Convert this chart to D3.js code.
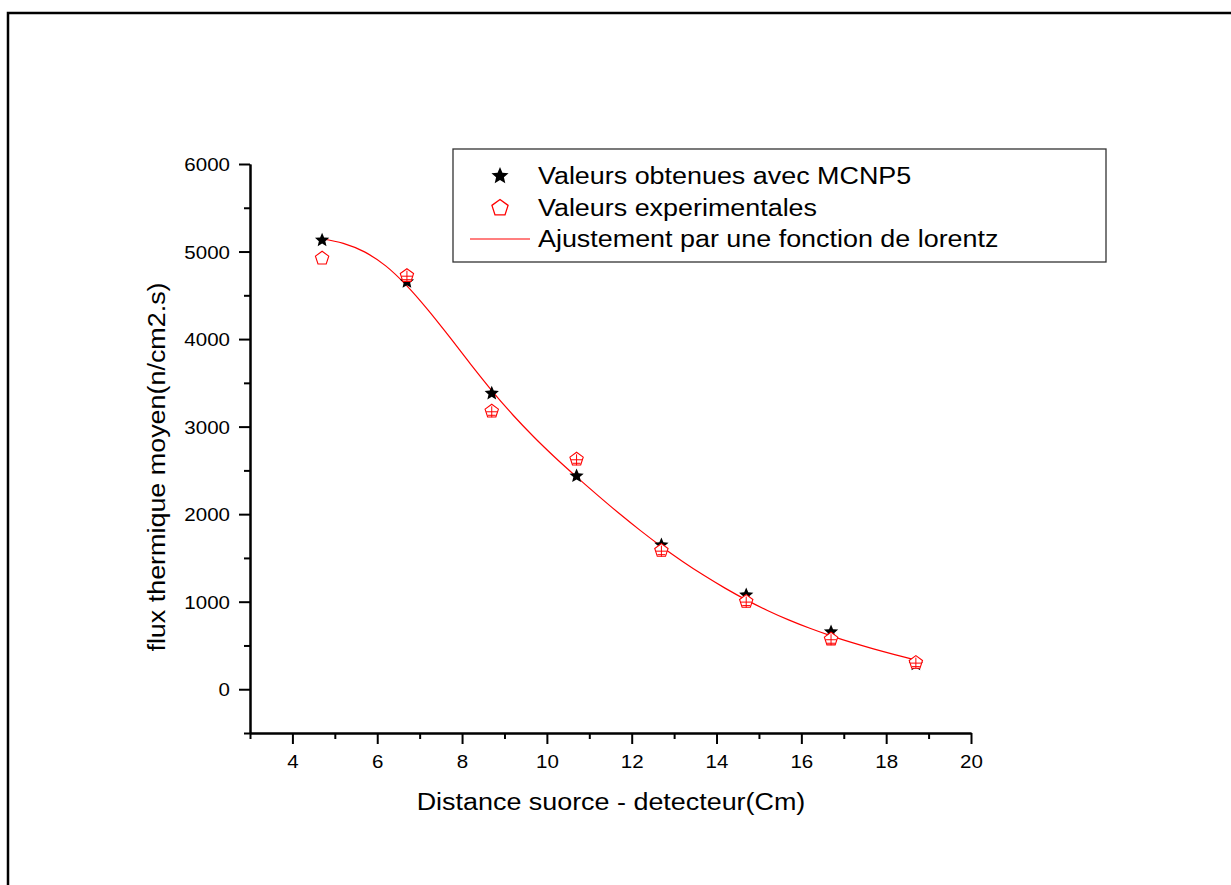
<!DOCTYPE html>
<html><head><meta charset="utf-8">
<script src="https://cdn.jsdelivr.net/npm/d3@7"></script>
<style>html,body{margin:0;padding:0;background:#fff;}svg{display:block;}</style>
</head><body>
<script>
// ---- data ----
const distances = [4.7, 6.7, 8.7, 10.7, 12.7, 14.7, 16.7, 18.7];
const mcnp5 = [5130, 4655, 3380, 2436, 1648, 1077, 655, 285];
const experimental = [4923, 4724, 3175, 2627, 1583, 1001, 571, 304];
const fitX = [4.7, 5.2, 5.7, 6.2, 6.7, 7.2, 7.7, 8.2, 8.7, 9.2, 9.7, 10.2, 10.7, 11.2, 11.7, 12.2, 12.7, 13.2, 13.7, 14.2, 14.7, 15.2, 15.7, 16.2, 16.7, 17.2, 17.7, 18.2, 18.7];
const fitY = [5143, 5093, 4996, 4836, 4608, 4331, 4027, 3714, 3412, 3133, 2879, 2645, 2426, 2215, 2010, 1815, 1631, 1460, 1301, 1155, 1021, 900, 792, 696, 610, 532, 461, 396, 336];
const xMajorTicks = [4, 6, 8, 10, 12, 14, 16, 18, 20];
const xMinorTicks = [3, 5, 7, 9, 11, 13, 15, 17, 19];
const yMajorTicks = [0, 1000, 2000, 3000, 4000, 5000, 6000];
const yMinorTicks = [-500, 500, 1500, 2500, 3500, 4500, 5500];
const legendLabels = ["Valeurs obtenues avec MCNP5", "Valeurs experimentales", "Ajustement par une fonction de lorentz"];
const xTitle = "Distance suorce - detecteur(Cm)";
const yTitle = "flux thermique moyen(n/cm2.s)";

const W = 1231, H = 885;
const FONT = "'Liberation Sans', Arial, sans-serif";
const SX = 1.17; // horizontal stretch of Origin text

const svg = d3.select("body").append("svg").attr("width", W).attr("height", H);

// outer frame (top + left)
svg.append("path").attr("d", `M8,${H} L8,13 L${W},13`).attr("fill", "none")
  .attr("stroke", "#000").attr("stroke-width", 2.5);

const x = d3.scaleLinear().domain([3, 20]).range([250, 971]);
const y = d3.scaleLinear().domain([-500, 6000]).range([733, 164]);

function stretchText(sel, px, py, anchor, s) {
  sel.attr("x", null).attr("y", null).attr("dy", null)
    .attr("text-anchor", anchor)
    .attr("transform", `translate(${px},${py}) scale(${s || SX},1)`);
}

// axes
const gx = svg.append("g").attr("transform", "translate(0,733)");
gx.call(d3.axisBottom(x).tickValues(xMinorTicks).tickSize(6).tickSizeOuter(0).tickFormat(""));
const gx2 = svg.append("g").attr("transform", "translate(0,733)");
gx2.call(d3.axisBottom(x).tickValues(xMajorTicks).tickSize(11).tickSizeOuter(0).tickFormat(d3.format("d")));
const gy = svg.append("g").attr("transform", "translate(250,0)");
gy.call(d3.axisLeft(y).tickValues(yMinorTicks).tickSize(6).tickSizeOuter(0).tickFormat(""));
const gy2 = svg.append("g").attr("transform", "translate(250,0)");
gy2.call(d3.axisLeft(y).tickValues(yMajorTicks).tickSize(11).tickSizeOuter(0).tickFormat(d3.format("d")));

svg.selectAll(".domain").attr("stroke", "#000").attr("stroke-width", 2);
svg.selectAll(".tick line").attr("stroke", "#000").attr("stroke-width", 2);
svg.selectAll(".tick text").attr("font-family", FONT).attr("font-size", 18).attr("fill", "#000");
gx2.selectAll(".tick text").each(function () { stretchText(d3.select(this), 0, 34.5, "middle", 1.14); });
gy2.selectAll(".tick text").each(function () { stretchText(d3.select(this), -20, 6.5, "end", 1.14); });

// axis titles
const xt = svg.append("text").text(xTitle).attr("font-family", FONT).attr("font-size", 23).attr("fill", "#000");
stretchText(xt, 611, 810, "middle");
svg.append("text").text(yTitle).attr("font-family", FONT).attr("font-size", 23).attr("fill", "#000")
  .attr("text-anchor", "middle")
  .attr("transform", `translate(165,467) rotate(-90) scale(${SX},1)`);

// fit curve
const line = d3.line().x((d, i) => x(fitX[i])).y(d => y(d)).curve(d3.curveMonotoneX);
svg.append("path").datum(fitY).attr("d", line).attr("fill", "none")
  .attr("stroke", "#ff0000").attr("stroke-width", 1.2);

// symbols
function pentagonPath(r) {
  const pts = d3.range(5).map(k => {
    const a = (-90 + k * 72) * Math.PI / 180;
    return [r * Math.cos(a), r * Math.sin(a)];
  });
  return "M" + pts.map(p => p[0].toFixed(2) + "," + p[1].toFixed(2)).join("L") + "Z";
}
function starPath(R, r) {
  const pts = d3.range(10).map(k => {
    const a = (-90 + k * 36) * Math.PI / 180;
    const rr = k % 2 === 0 ? R : r;
    return [rr * Math.cos(a), rr * Math.sin(a)];
  });
  return "M" + pts.map(p => p[0].toFixed(2) + "," + p[1].toFixed(2)).join("L") + "Z";
}
const star = starPath(7.5, 3.4);
const starBig = starPath(9, 4.1);

svg.append("g").selectAll("path").data(mcnp5).join("path")
  .attr("d", star).attr("fill", "#000")
  .attr("transform", (d, i) => `translate(${x(distances[i])},${y(d)})`);

const pg = svg.append("g").selectAll("g").data(experimental).join("g")
  .attr("transform", (d, i) => `translate(${x(distances[i])},${y(d)})`);
pg.append("path").attr("d", pentagonPath(7)).attr("fill", "#fff")
  .attr("stroke", "#ff0000").attr("stroke-width", 1.1);
pg.filter((d, i) => i > 0).append("path")
  .attr("d", "M-5.5,0.5L5.5,0.5M0,-5L0,6M-4,4L4,4")
  .attr("stroke", "#ff0000").attr("stroke-width", 1).attr("fill", "none");

// legend
const lg = svg.append("g");
lg.append("rect").attr("x", 453).attr("y", 149).attr("width", 653).attr("height", 113)
  .attr("fill", "#fff").attr("stroke", "#333").attr("stroke-width", 1.3);
lg.append("path").attr("d", starBig).attr("fill", "#000").attr("transform", "translate(500,176)");
lg.append("path").attr("d", pentagonPath(8.5)).attr("fill", "#fff").attr("stroke", "#ff0000")
  .attr("stroke-width", 1.3).attr("transform", "translate(500,208)");
lg.append("line").attr("x1", 470).attr("x2", 530).attr("y1", 239).attr("y2", 239)
  .attr("stroke", "#ff0000").attr("stroke-width", 1.2);
const lbY = [184, 216, 247];
legendLabels.forEach((t, i) => {
  const tx = lg.append("text").text(t).attr("font-family", FONT).attr("font-size", 23).attr("fill", "#000");
  stretchText(tx, 538, lbY[i], "start");
});
</script>
</body></html>
